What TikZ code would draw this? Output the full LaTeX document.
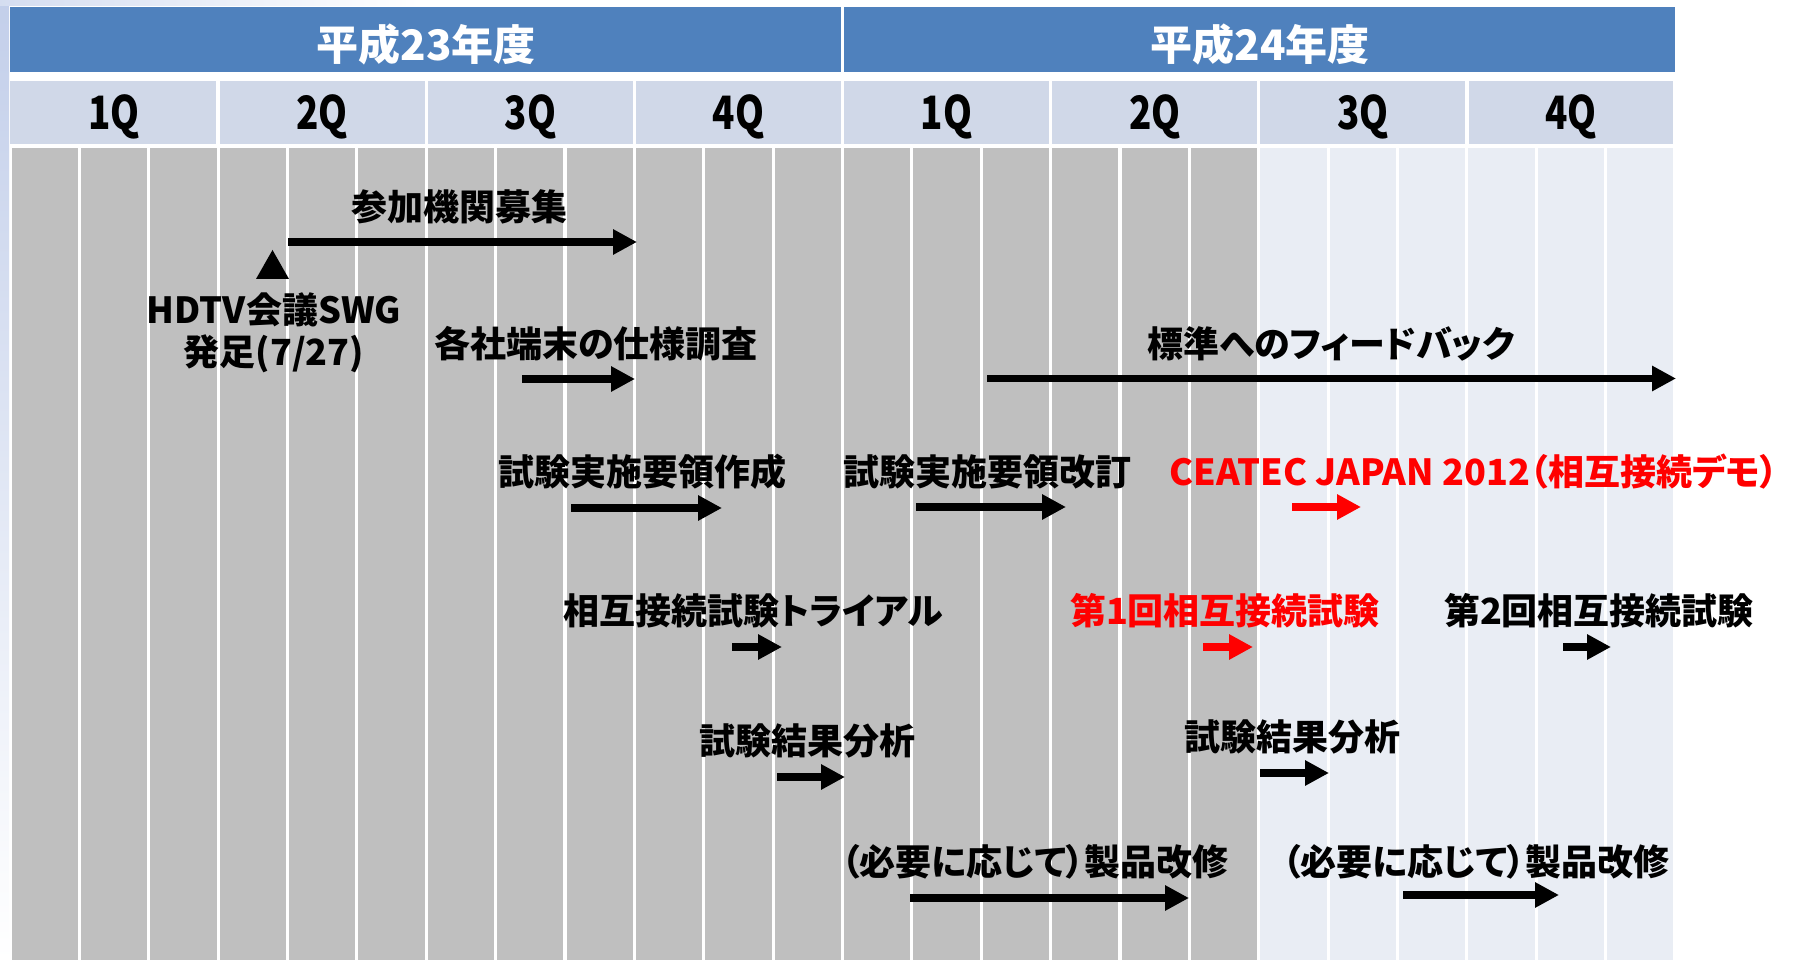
\documentclass[tikz,border=0pt]{standalone}
\usepackage{fontspec}
\setmainfont{Noto Sans CJK JP}[RawFeature=+palt]
\newfontfamily\qfont{Noto Sans CJK JP}[FakeStretch=0.8]
\usetikzlibrary{arrows.meta}
\definecolor{hdrblue}{HTML}{4F81BD}
\definecolor{qcell}{HTML}{D0D8E8}
\definecolor{pastcell}{HTML}{BFBFBF}
\definecolor{futcell}{HTML}{E9EDF4}
\definecolor{edgeblue}{HTML}{C3CFEA}
\tikzset{
  lbl/.style={font=\bfseries\fontsize{18pt}{21pt}\selectfont, text=black, inner sep=0pt, align=center},
  redlbl/.style={lbl, text=red},
  fylbl/.style={font=\bfseries\fontsize{21pt}{24pt}\selectfont, text=white, inner sep=0pt},
  qlbl/.style={font=\qfont\bfseries\fontsize{23pt}{26pt}\selectfont, text=black, inner sep=0pt},
  bar/.style={draw=black, line width=3.8pt, -{Triangle[length=12pt,width=12pt]}},
  redbar/.style={bar, draw=red},
}
\begin{document}
\begin{tikzpicture}[x=0.5pt,y=-0.5pt]
\useasboundingbox (0,0) rectangle (1805,961);
\fill[white] (0,0) rectangle (1805,961);
\shade[top color=edgeblue, bottom color=white] (0,0) rectangle (9,961);
\shade[left color=edgeblue!70, right color=white] (0,0) rectangle (420,6);

% fiscal year header
\fill[hdrblue] (10,7) rectangle (841,72);
\fill[hdrblue] (844,7) rectangle (1675,72);
\node[fylbl] (fy23) at (426,44.5) {平成23年度};
\node[fylbl] (fy24) at (1260,44.5) {平成24年度};

% quarter row
\foreach \q/\lab in {0/1Q,1/2Q,2/3Q,3/4Q,4/1Q,5/2Q,6/3Q,7/4Q}{
  \fill[qcell] ({10+\q*208.125+(\q>0 ? 1.7 : 0)},81) rectangle ({10+(\q+1)*208.125-1.7},144);
  \node[qlbl] (q\q) at ({10+(\q+0.5)*208.125},116.5) {\lab};
}

% month columns
\foreach \i in {0,...,17}{
  \fill[pastcell] ({10+\i*69.375+1.6},148) rectangle ({10+(\i+1)*69.375-1.6},960);
}
\foreach \i in {18,...,23}{
  \fill[futcell] ({10+\i*69.375+1.6},148) rectangle ({10+(\i+1)*69.375-1.6},960);
}

% labels
\node[lbl] (boshu) at (459,207) {参加機関募集};
\node[lbl] (hdtv) at (274,333) {HDTV会議SWG\\発足(7/27)};
\node[lbl] (shiyo) at (596,344) {各社端末の仕様調査};
\node[lbl] (sakusei) at (642,472) {試験実施要領作成};
\node[lbl] (feedback) at (1331,344) {標準へのフィードバック};
\node[lbl] (kaitei) at (987,472) {試験実施要領改訂};
\node[redlbl] (ceatec) at (1474,472) {CEATEC JAPAN 2012（相互接続デモ）};
\node[lbl] (trial) at (753,611) {相互接続試験トライアル};
\node[redlbl] (test1) at (1225,611) {第1回相互接続試験};
\node[lbl] (test2) at (1599,611) {第2回相互接続試験};
\node[lbl] (bunseki1) at (807,741) {試験結果分析};
\node[lbl] (bunseki2) at (1292,737) {試験結果分析};
\node[lbl] (kaishu1) at (1035,862) {（必要に応じて）製品改修};
\node[lbl] (kaishu2) at (1476,862) {（必要に応じて）製品改修};

% milestone triangle
\coordinate (triA) at (272.5,250);
\coordinate (triB) at (289,279);
\coordinate (triC) at (256,279);
\fill[black] (triA) -- (triB) -- (triC) -- cycle;

% arrow end points
\coordinate (a1s) at (288,242);   \coordinate (a1e) at (637,242);
\coordinate (a2s) at (522,379);   \coordinate (a2e) at (635,379);
\coordinate (a3s) at (571,508);   \coordinate (a3e) at (722,508);
\coordinate (a4s) at (987,378.5); \coordinate (a4e) at (1676,378.5);
\coordinate (a5s) at (916,507);   \coordinate (a5e) at (1066,507);
\coordinate (a6s) at (1292,507);  \coordinate (a6e) at (1361,507);
\coordinate (a7s) at (732,647);   \coordinate (a7e) at (782,647);
\coordinate (a8s) at (1203,647);  \coordinate (a8e) at (1253,647);
\coordinate (a9s) at (1563,647);  \coordinate (a9e) at (1611,647);
\coordinate (a10s) at (777,777);  \coordinate (a10e) at (845,777);
\coordinate (a11s) at (1260,773); \coordinate (a11e) at (1329,773);
\coordinate (a12s) at (910,898);  \coordinate (a12e) at (1189,898);
\coordinate (a13s) at (1403,895); \coordinate (a13e) at (1559,895);

\draw[bar] (a1s) -- (a1e);
\draw[bar] (a2s) -- (a2e);
\draw[bar] (a3s) -- (a3e);
\draw[bar] (a4s) -- (a4e);
\draw[bar] (a5s) -- (a5e);
\draw[redbar] (a6s) -- (a6e);
\draw[bar] (a7s) -- (a7e);
\draw[redbar] (a8s) -- (a8e);
\draw[bar] (a9s) -- (a9e);
\draw[bar] (a10s) -- (a10e);
\draw[bar] (a11s) -- (a11e);
\draw[bar] (a12s) -- (a12e);
\draw[bar] (a13s) -- (a13e);
\end{tikzpicture}
\end{document}
